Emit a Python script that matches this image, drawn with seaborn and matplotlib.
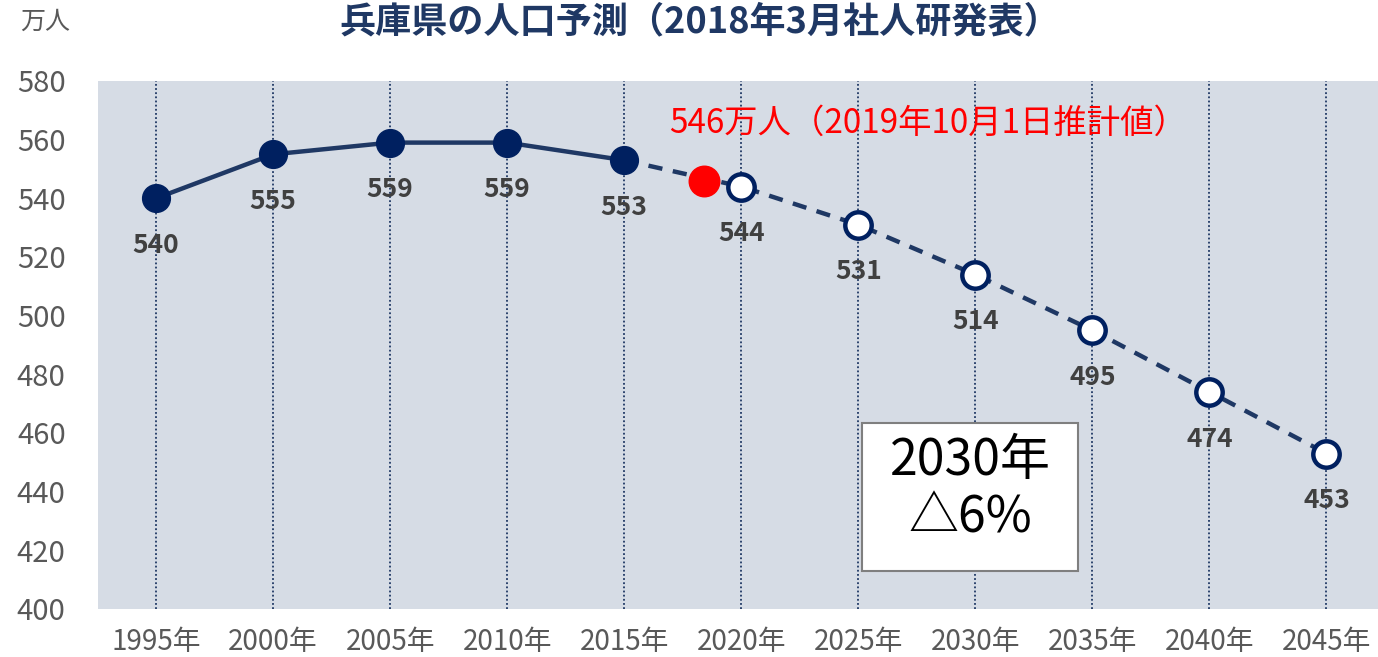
import numpy as np
import pandas as pd
import matplotlib
matplotlib.use("Agg")
import matplotlib.pyplot as plt
import seaborn as sns
from matplotlib.patches import Rectangle

# ---- data ----
years = ["1995年", "2000年", "2005年", "2010年", "2015年", "2020年",
         "2025年", "2030年", "2035年", "2040年", "2045年"]
actual = [540, 555, 559, 559, 553]
forecast = [544, 531, 514, 495, 474, 453]
estimate_value = 546
estimate_pos = 4.68  # 2019年10月1日 position between 2015 and 2020
y_ticks = [400, 420, 440, 460, 480, 500, 520, 540, 560, 580]

sns.set_theme(style="white")
plt.rcParams['font.family'] = ['Noto Sans CJK JP', 'DejaVu Sans']

navy = "#002060"
line_col = "#1F3864"
gray = "#595959"

fig = plt.figure(figsize=(13.78, 6.57), dpi=100)
W, H = 1378, 657
left, right, top, bottom = 97.5, 1378, 81, 609
ax = fig.add_axes([left / W, 1 - bottom / H, (right - left) / W, (bottom - top) / H])
ax.set_facecolor("#D6DCE5")

x_all = np.arange(len(years))
n_act = len(actual)
df_act = pd.DataFrame({"x": x_all[:n_act], "v": actual})
df_fc = pd.DataFrame({"x": x_all[n_act - 1:], "v": [actual[-1]] + forecast})
df_fc_pts = pd.DataFrame({"x": x_all[n_act:], "v": forecast})

sns.lineplot(data=df_act, x="x", y="v", ax=ax, color=line_col, lw=3.2, zorder=3)
sns.lineplot(data=df_fc, x="x", y="v", ax=ax, color=line_col, lw=3.2,
             dashes=False, zorder=3).lines[-1].set_dashes((3.2, 2.4))
ax.plot(df_act["x"], df_act["v"], "o", ms=20, color=navy, zorder=4)
ax.plot(df_fc_pts["x"], df_fc_pts["v"], "o", ms=19, mfc="white", mec=navy, mew=3.2, zorder=4)
ax.plot([estimate_pos], [estimate_value], "o", ms=22, color="#FF0000", zorder=5)

# data labels
for xi, v in zip(x_all, actual + forecast):
    ax.annotate(str(v), (xi, v), xytext=(0, -34), textcoords="offset points",
                ha="center", va="center", fontsize=19, color="#404040", fontweight="bold")

ax.text(estimate_pos - 0.3, 565.5, "546万人（2019年10月1日推計値）", color="#FF0000",
        fontsize=24, ha="left", va="center")

# annotation box
ax.add_patch(Rectangle((6.03, 413.0), 1.85, 50.4, facecolor="white",
                       edgecolor="#7F7F7F", lw=1.5, zorder=6))
ax.text(6.955, 450.3, "2030年", fontsize=36, ha="center", va="center", color="black", zorder=7)
ax.text(6.955, 431.0, "△6%", fontsize=36, ha="center", va="center", color="black", zorder=7)

ax.set_xlim(-0.5, 10.44)
ax.set_ylim(400, 580)
ax.set_xticks(x_all)
ax.set_xticklabels(years)
ax.set_yticks(y_ticks)
ax.set_xlabel("")
ax.set_ylabel("")
ax.tick_params(axis="y", length=0, pad=23, labelsize=21, labelcolor=gray)
ax.tick_params(axis="x", length=0, pad=13, labelsize=20, labelcolor=gray)
ax.grid(axis="x", color=line_col, lw=1.3, linestyle=(0, (1, 1.3)))
ax.grid(axis="y", visible=False)
for s in ax.spines.values():
    s.set_visible(False)

fig.text(700 / W, 1 - 22 / H, "兵庫県の人口予測（2018年3月社人研発表）", ha="center", va="center",
         fontsize=26, color=line_col, fontweight="bold")
fig.text(45 / W, 1 - 22 / H, "万人", ha="center", va="center", fontsize=18, color=gray)

fig.savefig("out.png", dpi=100)
